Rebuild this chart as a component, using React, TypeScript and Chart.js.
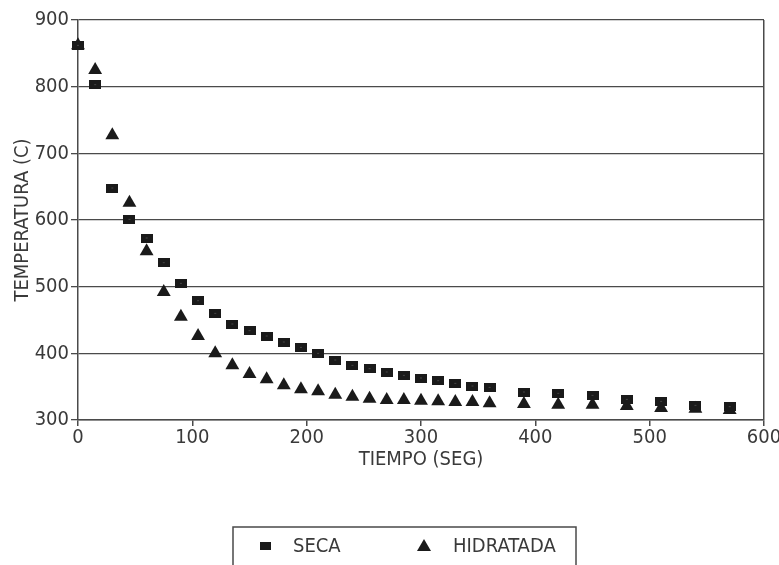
import React, { useEffect, useRef } from "react";
import { Chart, registerables } from "chart.js";

Chart.register(...registerables);

const times = [0, 15, 30, 45, 60, 75, 90, 105, 120, 135, 150, 165, 180, 195, 210, 225, 240, 255, 270, 285, 300, 315, 330, 345, 360, 390, 420, 450, 480, 510, 540, 570];
const seca = [862, 803, 648, 601, 573, 536, 505, 479, 460, 444, 434, 426, 417, 409, 400, 390, 382, 377, 372, 367, 363, 359, 355, 351, 349, 342, 340, 337, 331, 328, 322, 320];
const hidratada = [862, 825, 727, 626, 553, 492, 455, 426, 400, 382, 369, 361, 352, 346, 343, 338, 335, 332, 330, 330, 329, 328, 327, 327, 325, 324, 323, 323, 321, 318, 317, 315];
const seriesLabels = ["SECA", "HIDRATADA"];
const xTitle = "TIEMPO (SEG)";
const yTitle = "TEMPERATURA (C)";

const FONT = "'Liberation Sans Narrow', 'Arial Narrow', 'DejaVu Sans Condensed', 'Liberation Sans', sans-serif";
const INK = "#1a1a1a";
const TEXT = "#3a3a3a";
const LINE = "#4a4a4a";

function makeRect(): HTMLCanvasElement {
  const c = document.createElement("canvas");
  c.width = 12;
  c.height = 9;
  const g = c.getContext("2d")!;
  g.fillStyle = INK;
  g.fillRect(0, 0, 12, 9);
  g.fillStyle = "#444";
  g.fillRect(5, 4, 2, 1);
  return c;
}

export default function App() {
  const ref = useRef<HTMLCanvasElement | null>(null);

  useEffect(() => {
    if (!ref.current) return;
    const rectImg = makeRect();

    const legendPlugin = {
      id: "boxLegend",
      afterDraw(chart: any) {
        const ctx = chart.ctx as CanvasRenderingContext2D;
        ctx.save();
        ctx.strokeStyle = LINE;
        ctx.lineWidth = 1.5;
        ctx.strokeRect(233, 527, 343, 60);
        ctx.fillStyle = INK;
        ctx.fillRect(260, 542, 11, 8);
        ctx.beginPath();
        ctx.moveTo(424, 539);
        ctx.lineTo(431, 551);
        ctx.lineTo(417, 551);
        ctx.closePath();
        ctx.fill();
        ctx.fillStyle = TEXT;
        ctx.font = `20px ${FONT}`;
        ctx.textBaseline = "middle";
        ctx.textAlign = "left";
        ctx.fillText(chart.data.datasets[0].label, 293, 547);
        ctx.fillText(chart.data.datasets[1].label, 453, 547);
        ctx.restore();
      },
    };

    const chart = new Chart(ref.current, {
      type: "scatter",
      data: {
        datasets: [
          {
            label: seriesLabels[0],
            data: times.map((t, i) => ({ x: t, y: seca[i] })),
            pointStyle: rectImg as any,
            pointRadius: 6,
            backgroundColor: INK,
            borderColor: INK,
            clip: false as any,
          },
          {
            label: seriesLabels[1],
            data: times.map((t, i) => ({ x: t, y: hidratada[i] })),
            pointStyle: "triangle",
            pointRadius: 8,
            backgroundColor: INK,
            borderColor: INK,
            borderWidth: 0,
            clip: false as any,
          },
        ],
      },
      options: {
        animation: false,
        responsive: false,
        events: [],
        layout: { padding: { left: 0, right: 15, top: 20, bottom: 93 } },
        plugins: { legend: { display: false }, tooltip: { enabled: false } },
        scales: {
          x: {
            type: "linear",
            min: 0,
            max: 600,
            afterFit: (s: any) => {
              s.height = 52;
              s.paddingRight = 0;
              s.paddingLeft = 0;
            },
            ticks: { stepSize: 100, color: TEXT, font: { family: FONT, size: 20 }, padding: 0, maxRotation: 0 },
            grid: {
              drawOnChartArea: true,
              color: (c: any) => (c.tick && c.tick.value === 600 ? LINE : "rgba(0,0,0,0)"),
              tickColor: LINE,
              tickLength: 6,
              lineWidth: 1.5,
            },
            border: { display: true, color: LINE, width: 1.5 },
            title: { display: true, text: xTitle, color: TEXT, font: { family: FONT, size: 20 }, padding: { top: 0, bottom: 0 } },
          },
          y: {
            type: "linear",
            min: 300,
            max: 900,
            afterFit: (s: any) => {
              s.width = 78;
              s.paddingTop = 0;
              s.paddingBottom = 0;
            },
            ticks: { stepSize: 100, color: TEXT, font: { family: FONT, size: 20 }, padding: 2 },
            grid: { color: LINE, tickColor: LINE, tickLength: 7, lineWidth: 1.3 },
            border: { display: true, color: LINE, width: 1.5 },
            title: { display: true, text: yTitle, color: TEXT, font: { family: FONT, size: 20 }, padding: { top: 11, bottom: 0 } },
          },
        },
      },
      plugins: [legendPlugin],
    });
    return () => chart.destroy();
  }, []);

  return (
    <div style={{ position: "absolute", left: 0, top: 0, width: 779, height: 565, background: "#fff" }}>
      <canvas ref={ref} width={779} height={565} style={{ display: "block" }} />
    </div>
  );
}
